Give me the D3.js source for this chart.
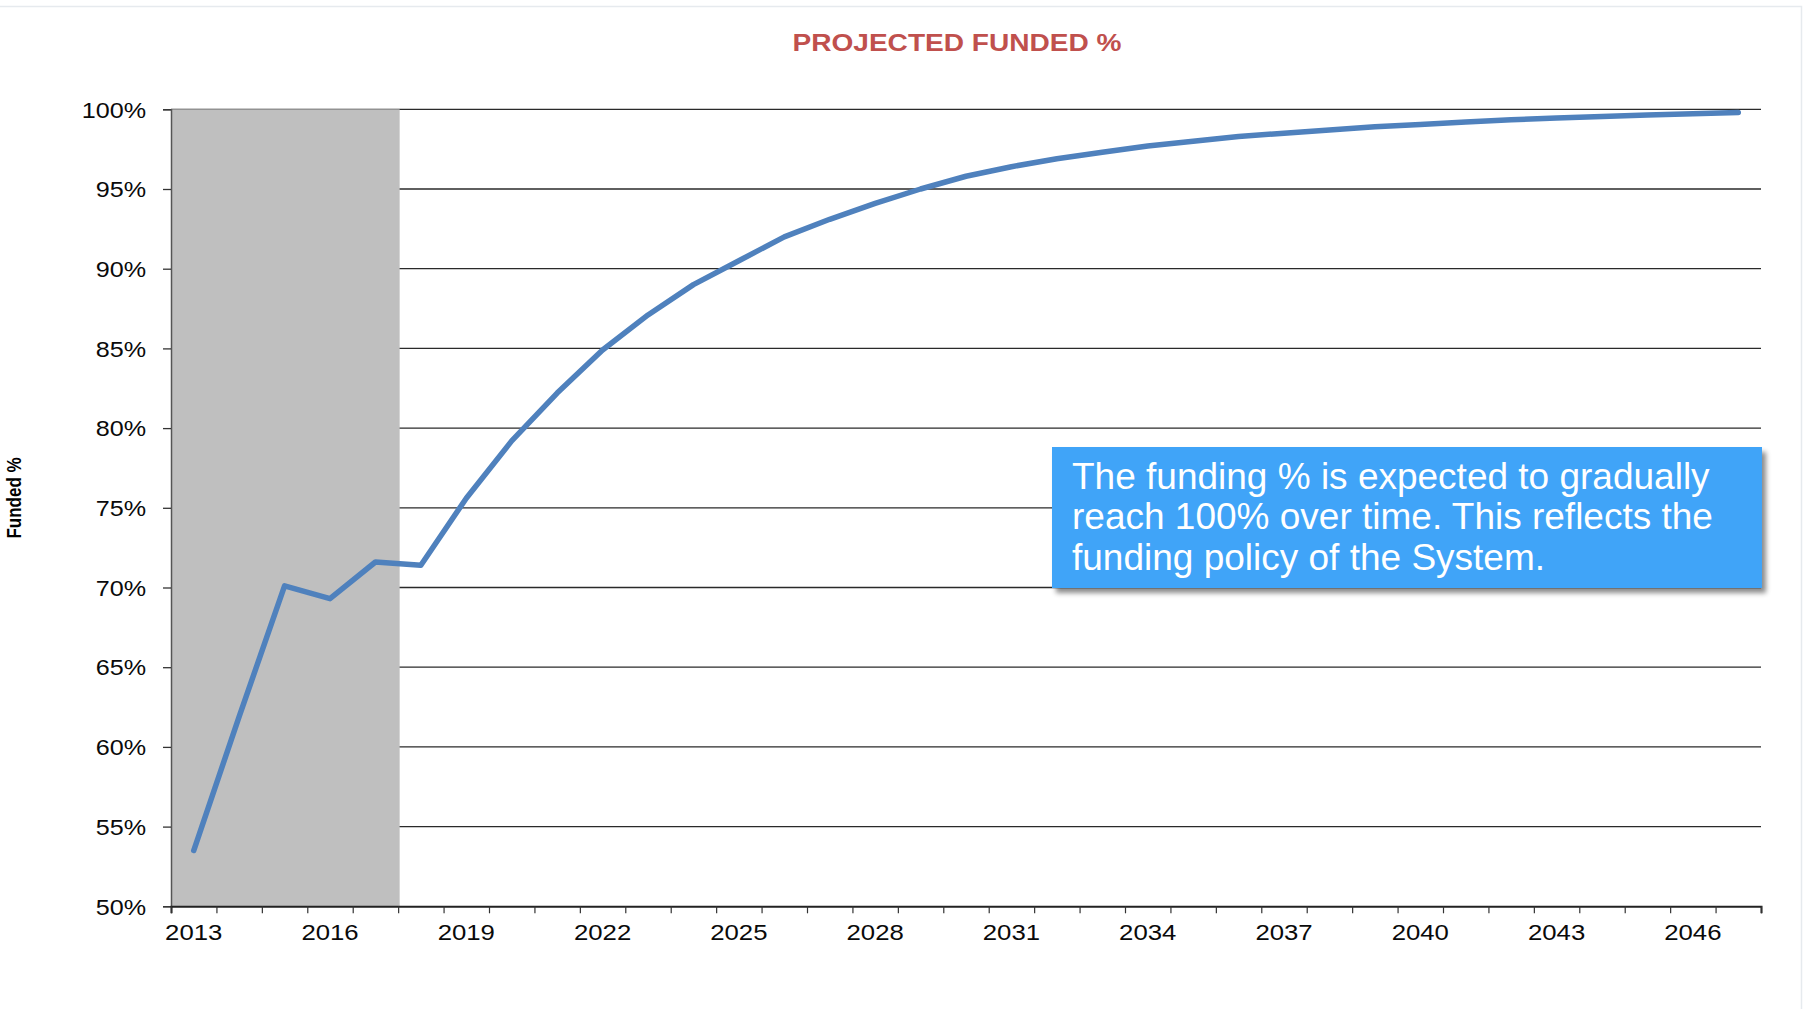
<!DOCTYPE html>
<html>
<head>
<meta charset="utf-8">
<script src="https://cdn.jsdelivr.net/npm/d3@7"></script>
<style>
  html, body { margin: 0; padding: 0; background: #ffffff; }
  svg { display: block; font-family: "Liberation Sans", Arial, Helvetica, sans-serif; }
</style>
</head>
<body>
<svg id="chart" width="1804" height="1009"></svg>
<script>
// Valuation years
const years = [2013, 2014, 2015, 2016, 2017, 2018, 2019, 2020, 2021, 2022,
               2023, 2024, 2025, 2026, 2027, 2028, 2029, 2030, 2031, 2032,
               2033, 2034, 2035, 2036, 2037, 2038, 2039, 2040, 2041, 2042,
               2043, 2044, 2045, 2046, 2047];

// Funded ratio (%) per year
const fundedPct = [53.5, 61.9, 70.1, 69.3, 71.6, 71.4, 75.6, 79.2, 82.2, 84.9,
                   87.1, 89.0, 90.5, 92.0, 93.1, 94.1, 95.0, 95.8, 96.4, 96.9,
                   97.3, 97.7, 98.0, 98.3, 98.5, 98.7, 98.9, 99.05, 99.2, 99.35,
                   99.45, 99.55, 99.65, 99.72, 99.8];

// Axis ticks
const yTicks = [50, 55, 60, 65, 70, 75, 80, 85, 90, 95, 100];
const xLabelYears = [2013, 2016, 2019, 2022, 2025, 2028, 2031, 2034, 2037, 2040, 2043, 2046];

// Actual (historical) years shaded grey
const shadedYears = [2013, 2017];

const titleText = "PROJECTED FUNDED %";
const yAxisTitle = "Funded %";
const noteLines = [
  "The funding % is expected to gradually",
  "reach 100% over time. This reflects the",
  "funding policy of the System."
];

const W = 1804, H = 1009;
const plot = { left: 171, right: 1761, top: 109.3, bottom: 906.3 };
const SX = 1.17;   // chart text is drawn slightly wide

const svg = d3.select("#chart");

svg.append("rect").attr("width", W).attr("height", H).attr("fill", "#ffffff");

// faint slide frame
svg.append("path")
  .attr("d", `M0,6.5H1801.5V${H}`)
  .attr("fill", "none")
  .attr("stroke", "#e6eaee")
  .attr("stroke-width", 1.5);

const defs = svg.append("defs");
const shadow = defs.append("filter").attr("id", "boxShadow")
  .attr("x", "-5%").attr("y", "-10%").attr("width", "115%").attr("height", "130%");
shadow.append("feDropShadow")
  .attr("dx", 4).attr("dy", 5).attr("stdDeviation", 2.5)
  .attr("flood-color", "#000").attr("flood-opacity", 0.45);

// scales
const x = d3.scaleBand().domain(years).range([plot.left, plot.right]).padding(0);
const xEdge = d3.scaleLinear().domain([0, years.length]).range([plot.left, plot.right]);
const y = d3.scaleLinear().domain([50, 100]).range([plot.bottom, plot.top]);

// title
svg.append("text")
  .attr("transform", `translate(957,51) scale(${SX},1)`)
  .attr("text-anchor", "middle")
  .attr("font-size", 24)
  .attr("font-weight", "bold")
  .attr("fill", "#C0504D")
  .text(titleText);

// horizontal gridlines
svg.append("g")
  .selectAll("line")
  .data(yTicks.filter(d => d > 50))
  .join("line")
  .attr("x1", plot.left).attr("x2", plot.right)
  .attr("y1", d => y(d)).attr("y2", d => y(d))
  .attr("stroke", "#2a2a2a")
  .attr("stroke-width", 1.3);

// shaded historical period
svg.append("rect")
  .attr("x", x(shadedYears[0]))
  .attr("y", y(100))
  .attr("width", x(shadedYears[1]) + x.bandwidth() - x(shadedYears[0]) + 1.5)
  .attr("height", y(50) - y(100))
  .attr("fill", "#BFBFBF");

// y axis
const yAxis = svg.append("g")
  .attr("transform", `translate(${plot.left},0)`)
  .call(d3.axisLeft(y).tickValues(yTicks).tickSize(8).tickFormat(d => d + "%"));
yAxis.select(".domain").attr("stroke", "#555").attr("stroke-width", 1.5);
yAxis.selectAll(".tick line").attr("stroke", "#333").attr("stroke-width", 1.3);
yAxis.selectAll(".tick text")
  .attr("x", -25 / SX)
  .attr("dy", "0.36em")
  .attr("transform", `scale(${SX},1)`)
  .attr("font-size", 21.5)
  .attr("font-family", "'Liberation Sans', Arial, sans-serif")
  .attr("fill", "#0a0a0a");

// x axis: boundary ticks
const xTicks = svg.append("g")
  .attr("transform", `translate(0,${plot.bottom})`)
  .call(d3.axisBottom(xEdge).tickValues(d3.range(0, years.length + 1)).tickSize(7).tickFormat(""));
xTicks.select(".domain").attr("stroke", "#222").attr("stroke-width", 2);
xTicks.selectAll(".tick line").attr("stroke", "#333").attr("stroke-width", 1.2);

// x axis: year labels centred in each band
const xLabels = svg.append("g")
  .attr("transform", `translate(0,${plot.bottom})`)
  .call(d3.axisBottom(x).tickValues(xLabelYears).tickSize(0).tickFormat(d3.format("d")));
xLabels.select(".domain").remove();
xLabels.selectAll(".tick text")
  .attr("y", 34)
  .attr("dy", 0)
  .attr("transform", `scale(${SX},1)`)
  .attr("font-size", 22)
  .attr("font-family", "'Liberation Sans', Arial, sans-serif")
  .attr("fill", "#0a0a0a");

// y axis title
svg.append("text")
  .attr("transform", `translate(21,498) scale(${SX},1) rotate(-90)`)
  .attr("text-anchor", "middle")
  .attr("font-size", 17)
  .attr("font-weight", "bold")
  .attr("fill", "#000")
  .text(yAxisTitle);

// funded % line
const line = d3.line()
  .x((d, i) => x(years[i]) + x.bandwidth() / 2)
  .y(d => y(d));

svg.append("path")
  .datum(fundedPct)
  .attr("d", line)
  .attr("fill", "none")
  .attr("stroke", "#4F81BD")
  .attr("stroke-width", 5.5)
  .attr("stroke-linejoin", "round")
  .attr("stroke-linecap", "round");

// call-out box
const note = svg.append("g");
note.append("rect")
  .attr("x", 1052).attr("y", 447)
  .attr("width", 710).attr("height", 141)
  .attr("fill", "#40A4F8")
  .attr("filter", "url(#boxShadow)");
note.selectAll("text")
  .data(noteLines)
  .join("text")
  .attr("x", 1072)
  .attr("y", (d, i) => 489 + i * 40.3)
  .attr("font-size", 37)
  .attr("fill", "#ffffff")
  .text(d => d);
</script>
</body>
</html>
